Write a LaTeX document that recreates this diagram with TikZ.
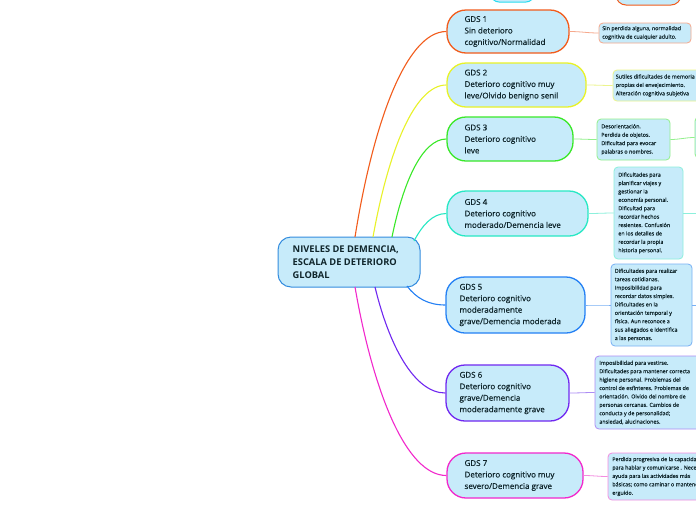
\documentclass[tikz,border=0pt]{standalone}
\usepackage{fontspec}
\setmainfont{Open Sans}
\newfontfamily\gdsfont[FakeBold=0.5]{Open Sans}
\definecolor{fillb}{RGB}{199,235,250}
\definecolor{tcol}{RGB}{16,38,44}
\definecolor{cblue}{RGB}{52,140,222}
\definecolor{c1}{RGB}{242,92,28}
\definecolor{c2}{RGB}{232,242,40}
\definecolor{c3}{RGB}{58,232,40}
\definecolor{c4}{RGB}{40,232,196}
\definecolor{c5}{RGB}{36,128,244}
\definecolor{c6}{RGB}{112,40,240}
\definecolor{c7}{RGB}{242,40,204}
\definecolor{c0}{RGB}{40,220,240}
\definecolor{l1}{RGB}{246,168,140}
\definecolor{l2}{RGB}{236,244,140}
\definecolor{l3}{RGB}{146,240,140}
\definecolor{l4}{RGB}{140,240,220}
\definecolor{l5}{RGB}{120,176,244}
\definecolor{l6}{RGB}{172,140,244}
\definecolor{l7}{RGB}{244,140,224}
\begin{document}
\begin{tikzpicture}[x=1pt,y=-1pt,
  central/.style={draw=cblue,line width=1pt,fill=fillb,rounded corners=13pt,inner sep=0pt},
  gdsbox/.style={fill=fillb,line width=1.3pt,rounded corners=19pt,inner sep=0pt},
  leafbox/.style={fill=fillb,line width=0.8pt,rounded corners=4pt,inner sep=0pt},
  ctext/.style={font=\fontsize{9.3}{12.8}\selectfont\bfseries,text=tcol,align=left,inner sep=0pt,anchor=west},
  gtext/.style={font=\gdsfont\fontsize{8}{11.5}\selectfont,text=tcol,align=left,inner sep=0pt,anchor=west},
  ltext/.style={font=\gdsfont\fontsize{5.4}{8.4}\selectfont,text=tcol,align=left,inner sep=0pt,anchor=west},
  branch/.style={line width=1.1pt},
  twig/.style={line width=0.8pt}]
\useasboundingbox (0,0) rectangle (696,520);
\clip (0,0) rectangle (696,520);
\fill[white] (0,0) rectangle (696,520);

% partial nodes at top
\node[gdsbox,draw=c0,line width=1pt,rounded corners=8pt,minimum width=43,minimum height=40] (top1) at (512.5,-18) {};
\node[gdsbox,draw=c1,line width=1pt,rounded corners=10pt,minimum width=65,minimum height=40] (top2) at (648.5,-15) {};

% central node
\node[central,minimum width=142,minimum height=50] (c) at (349,262) {};
\node[ctext] (ct) at ([xshift=15pt]c.west) {NIVELES DE DEMENCIA,\\ESCALA DE DETERIORO\\GLOBAL};

% GDS nodes
\node[gdsbox,draw=c1,minimum width=122,minimum height=43] (g1) at (508,31.5) {};
\node[gtext] (g1t) at ([xshift=18pt]g1.west) {GDS 1\\Sin deterioro\\cognitivo/Normalidad};
\node[gdsbox,draw=c2,minimum width=139,minimum height=44] (g2) at (516.5,85) {};
\node[gtext] (g2t) at ([xshift=18pt]g2.west) {GDS 2\\Deterioro cognitivo muy\\leve/Olvido benigno senil};
\node[gdsbox,draw=c3,minimum width=126,minimum height=44] (g3) at (510,139) {};
\node[gtext] (g3t) at ([xshift=18pt]g3.west) {GDS 3\\Deterioro cognitivo\\leve};
\node[gdsbox,draw=c4,minimum width=141,minimum height=45] (g4) at (517.5,213.5) {};
\node[gtext] (g4t) at ([xshift=18pt]g4.west) {GDS 4\\Deterioro cognitivo\\moderado/Demencia leve};
\node[gdsbox,draw=c5,minimum width=139,minimum height=56] (g5) at (515.5,305) {};
\node[gtext] (g5t) at ([xshift=14pt]g5.west) {GDS 5\\Deterioro cognitivo\\moderadamente\\grave/Demencia moderada};
\node[gdsbox,draw=c6,minimum width=123,minimum height=56] (g6) at (507.5,393) {};
\node[gtext] (g6t) at ([xshift=14pt]g6.west) {GDS 6\\Deterioro cognitivo\\grave/Demencia\\moderadamente grave};
\node[gdsbox,draw=c7,minimum width=136,minimum height=45] (g7) at (515,475.5) {};
\node[gtext] (g7t) at ([xshift=18pt]g7.west) {GDS 7\\Deterioro cognitivo muy\\severo/Demencia grave};

% leaf nodes
\node[leafbox,draw=l1,minimum width=92,minimum height=20] (l1) at (645,33) {};
\node[ltext] (l1t) at ([xshift=3.5pt]l1.west) {Sin perdida alguna, normalidad\\cognitiva de cualquier adulto.};
\node[leafbox,draw=l2,minimum width=110,minimum height=31] (l2) at (668,85.5) {};
\node[ltext] (l2t) at ([xshift=3pt]l2.west) {Sutiles dificultades de memoria\\propias del envejecimiento.\\Alteración cognitiva subjetiva};
\node[leafbox,draw=l3,minimum width=73,minimum height=41] (l3) at (633.5,139.5) {};
\node[ltext] (l3t) at ([xshift=4.5pt]l3.west) {Desorientación.\\Perdida de objetos.\\Dificultad para evocar\\palabras o nombres.};
\node[leafbox,draw=l3,minimum width=60,minimum height=41] (l3b) at (725,137.5) {};
\node[leafbox,draw=l4,minimum width=69,minimum height=92] (l4) at (648.5,213) {};
\node[ltext] (l4t) at ([xshift=4.5pt]l4.west) {Dificultades para\\planificar viajes y\\gestionar la\\economía personal.\\Dificultad para\\recordar hechos\\resientes. Confusión\\en los detalles de\\recordar la propia\\historia personal.};
\node[leafbox,draw=l5,minimum width=81,minimum height=82] (l5) at (651.5,305) {};
\node[ltext] (l5t) at ([xshift=4pt]l5.west) {Dificultades para realizar\\tareas cotidianas.\\Imposibilidad para\\recordar datos simples.\\Dificultades en la\\orientación temporal y\\física. Aun reconoce a\\sus allegados e identifica\\a las personas.};
\node[leafbox,draw=l6,minimum width=140,minimum height=73] (l6) at (665,392.5) {};
\node[ltext] (l6t) at ([xshift=4.5pt]l6.west) {Imposibilidad para vestirse.\\Dificultades para mantener correcta\\higiene personal. Problemas del\\control de esfínteres. Problemas de\\orientación. Olvido del nombre de\\personas cercanas. Cambios de\\conducta y de personalidad;\\ansiedad, alucinaciones.};
\node[leafbox,draw=l7,minimum width=140,minimum height=47] (l7) at (678,476.5) {};
\node[ltext] (l7t) at ([xshift=4.5pt]l7.west) {Perdida progresiva de la capacidad\\para hablar y comunicarse . Necesita\\ayuda para las actividades más\\básicas; como caminar o mantenerse\\erguido.};

% start points on the central node
\coordinate (s1) at (355,237);
\coordinate (s2) at (373,237);
\coordinate (s3) at (392,237);
\coordinate (s4) at (414,241);
\coordinate (s5) at (407,286);
\coordinate (s6) at (375,287);
\coordinate (s7) at (355,287);
\coordinate (e4) at (700,213);
\coordinate (e5) at (700,305);

% branches
\draw[branch,c1] (s1) .. controls (373,124) and (406,31.5) .. (g1.west);
\draw[branch,c2] (s2) .. controls (388,153) and (414,85) .. (g2.west);
\draw[branch,c3] (s3) .. controls (403,183) and (422,139) .. (g3.west);
\draw[branch,c4] (s4) .. controls (422,226) and (432,213.5) .. (g4.west);
\draw[branch,c5] (s5) .. controls (416,298) and (428,305) .. (g5.west);
\draw[branch,c6] (s6) .. controls (389,345) and (414,393) .. (g6.west);
\draw[branch,c7] (s7) .. controls (373,391) and (406,475.5) .. (g7.west);

% twigs
\draw[twig,l1] (g1.east) to[out=0,in=180] (l1.west);
\draw[twig,l2] (g2.east) to[out=0,in=180] (l2.west);
\draw[twig,l3] (g3.east) to[out=0,in=180] (l3.west);
\draw[twig,l3] (l3.east) to[out=0,in=180] (l3b.west);
\draw[twig,l4] (g4.east) to[out=0,in=180] (l4.west);
\draw[twig,l4] (l4.east) -- (e4);
\draw[twig,l5] (g5.east) to[out=0,in=180] (l5.west);
\draw[twig,l5] (l5.east) -- (e5);
\draw[twig,l6] (g6.east) to[out=0,in=180] (l6.west);
\draw[twig,l7] (g7.east) to[out=0,in=180] (l7.west);
\end{tikzpicture}
\end{document}
